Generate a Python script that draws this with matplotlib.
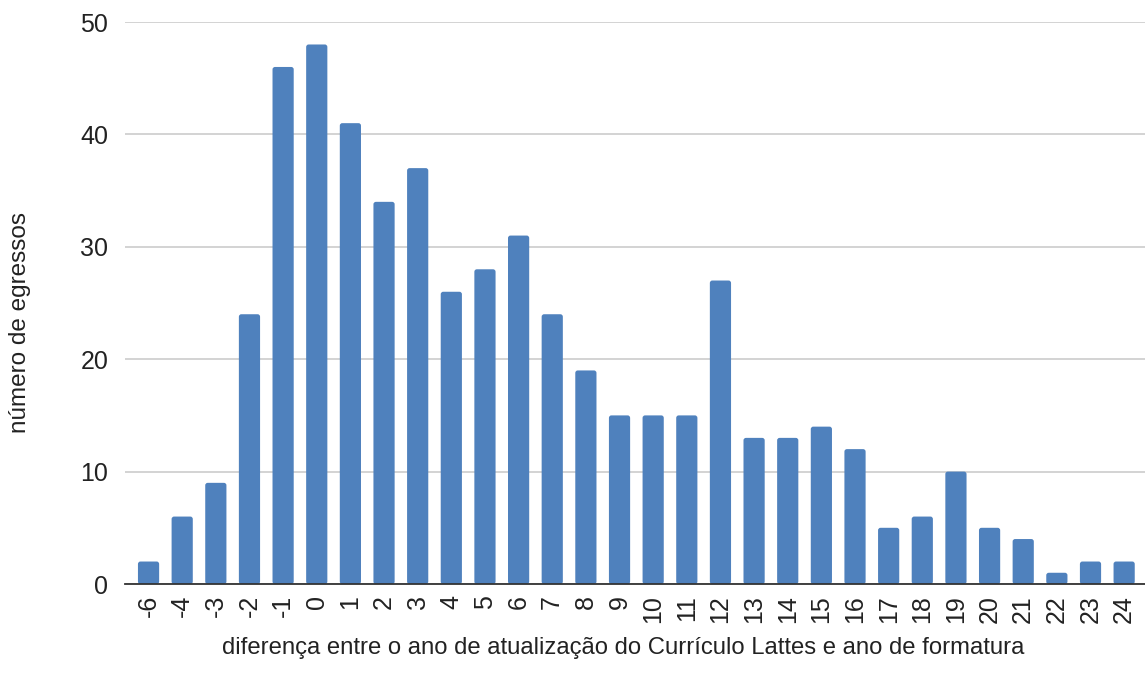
import matplotlib
matplotlib.use("Agg")
import matplotlib.pyplot as plt
from matplotlib.patches import FancyBboxPatch

categories = ["-6", "-4", "-3", "-2", "-1", "0", "1", "2", "3", "4", "5", "6", "7", "8", "9",
              "10", "11", "12", "13", "14", "15", "16", "17", "18", "19", "20", "21", "22", "23", "24"]
values = [2, 6, 9, 24, 46, 48, 41, 34, 37, 26, 28, 31, 24, 19, 15,
          15, 15, 27, 13, 13, 14, 12, 5, 6, 10, 5, 4, 1, 2, 2]
yticks = [0, 10, 20, 30, 40, 50]

plt.rcParams['font.family'] = ['Liberation Sans', 'DejaVu Sans']

fig = plt.figure(figsize=(11.45, 6.86), dpi=100)
ax = fig.add_axes([125/1145, 1 - 584/686, 1020/1145, (584-22)/686])

x = list(range(len(categories)))
bars = ax.bar(x, values, width=0.63, color="#4f81bd", zorder=3)

ax.set_xlim(-0.70, len(categories) - 1 + 0.62)
ax.set_ylim(0, 50)

# rounded bar tops
xpx = 1020 / (len(categories) - 1 + 0.62 + 0.70)
ypx = (584 - 22) / 50
for b in bars:
    b.set_visible(False)
    p = FancyBboxPatch((b.get_x(), b.get_y()), b.get_width(), b.get_height(),
                       boxstyle="round,pad=0,rounding_size=%f" % (2.5 / xpx),
                       mutation_aspect=xpx / ypx,
                       facecolor="#4f81bd", edgecolor="none", zorder=3)
    ax.add_patch(p)

ax.set_yticks(yticks)
ax.set_yticklabels([str(t) for t in yticks], fontsize=18, color="#222222")
ax.set_xticks(x)
ax.set_xticklabels(categories, rotation=90, fontsize=18, color="#222222")
ax.tick_params(axis='both', length=0)
ax.tick_params(axis='y', pad=12)
ax.tick_params(axis='x', pad=8)

ax.grid(axis='y', color="#cccccc", linewidth=1.2, zorder=0)
for s in ["top", "right", "left"]:
    ax.spines[s].set_visible(False)
ax.spines["bottom"].set_color("#333333")
ax.spines["bottom"].set_linewidth(1.3)
ax.spines["bottom"].set_zorder(4)

fig.text(623/1145, 1 - 648/686, "diferença entre o ano de atualização do Currículo Lattes e ano de formatura",
         ha="center", va="center", fontsize=17.2, color="#222222")
fig.text(20/1145, 1 - 322/686, "número de egressos", rotation=90,
         ha="center", va="center", fontsize=17.5, color="#222222")

fig.savefig("out.png", dpi=100)
